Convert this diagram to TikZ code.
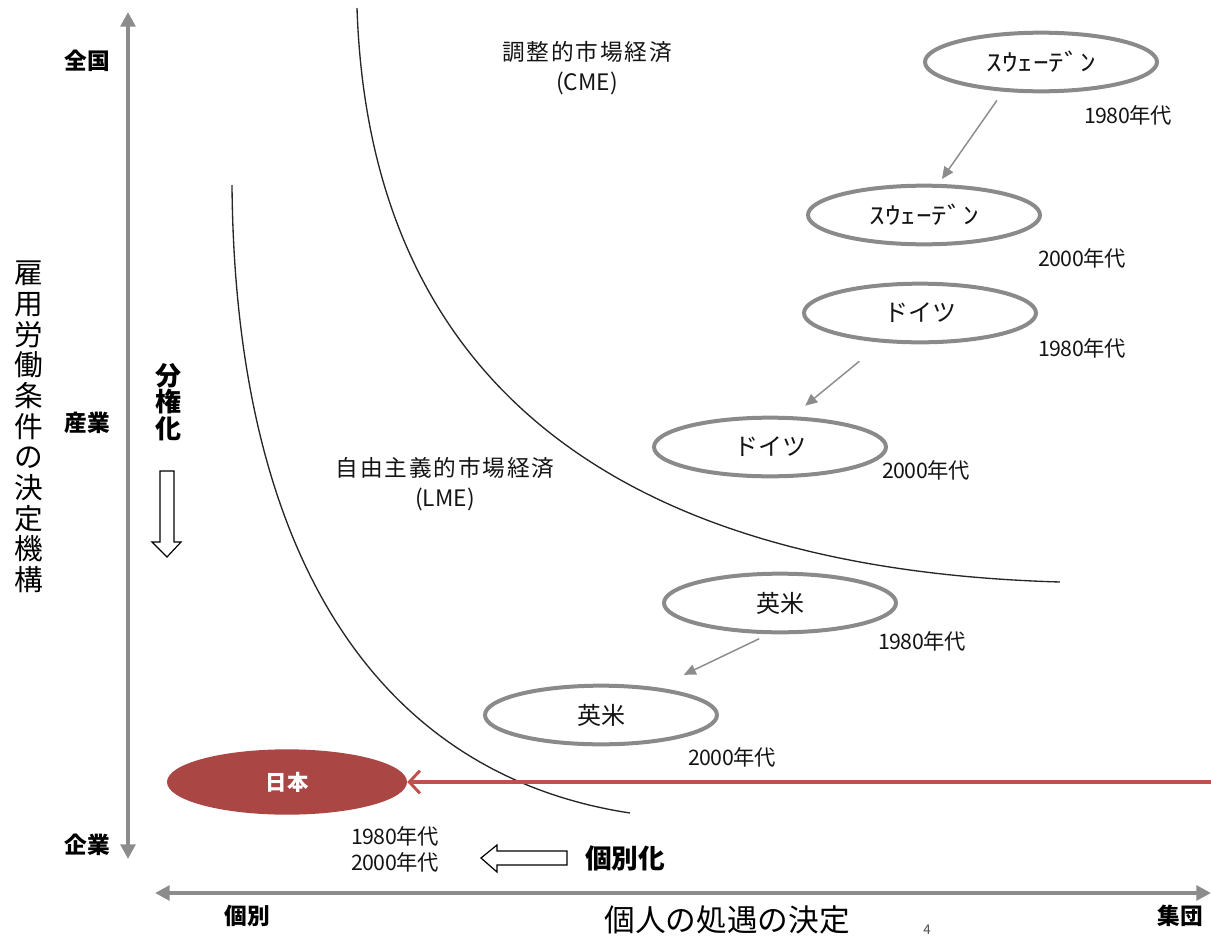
\documentclass[tikz,border=0pt]{standalone}
\usepackage{fontspec}
\usepackage{graphicx}
\setmainfont{Noto Sans CJK JP}
\usetikzlibrary{arrows.meta,shapes.geometric}
\definecolor{axisgray}{RGB}{140,140,140}
\definecolor{ellgray}{RGB}{138,138,138}
\definecolor{jpred}{RGB}{170,70,68}
\definecolor{arrred}{RGB}{192,80,77}
\definecolor{txt}{RGB}{20,20,20}
\newcommand{\hwk}[1]{\scalebox{1.3}[1]{#1}}
\newcommand{\spaced}[1]{{\addfontfeature{LetterSpace=8}#1}}
\begin{document}
\begin{tikzpicture}[x=0.75pt,y=-0.75pt,
  axis/.style={draw=axisgray,line width=3pt,{Triangle[length=11pt,width=11pt]}-{Triangle[length=11pt,width=11pt]}},
  ell/.style={ellipse,draw=ellgray,line width=3pt,fill=white,minimum width=174pt,minimum height=44pt,inner sep=0pt,font=\fontsize{18pt}{21pt}\selectfont,text=txt},
  jp/.style={ellipse,fill=jpred,minimum width=180pt,minimum height=49pt,inner sep=0pt,text=white,font=\fontsize{16pt}{19pt}\selectfont\bfseries},
  conn/.style={draw=axisgray,line width=1.1pt,-{Triangle[length=9pt,width=8pt]}},
  redarr/.style={draw=arrred,line width=3pt,-{Straight Barb[length=8pt,width=17pt,line width=2.2pt]}},
  hollow/.style={draw=black,line width=0.9pt,fill=white,line join=miter},
  curve/.style={draw=black!85,line width=1pt},
  period/.style={font=\fontsize{16pt}{19.5pt}\selectfont\addfontfeature{LetterSpace=-2},text=txt,align=center},
  region/.style={font=\fontsize{17pt}{22pt}\selectfont,text=txt,align=center},
  level/.style={font=\fontsize{17pt}{20pt}\selectfont\bfseries,text=black},
  bigbold/.style={font=\fontsize{20pt}{20pt}\selectfont\bfseries,text=black,align=center},
]
\useasboundingbox (0,0) rectangle (1211,939);

% boundary curves
\draw[curve] (357,8) .. controls (370,400) and (640,570) .. (1060,582);
\draw[curve] (232,185) .. controls (235,560) and (380,775) .. (630,813);

% axes
\coordinate (ytop) at (128,12);
\coordinate (ybot) at (128,859);
\coordinate (xleft) at (155,893);
\coordinate (xright) at (1211,893);
\draw[axis] (ybot) -- (ytop);
\draw[axis] (xleft) -- (xright);

% axis labels
\node[level] (zenkoku) at (87,61) {全国};
\node[level] (sangyo) at (87,423) {産業};
\node[level] (kigyo) at (87,845) {企業};
\node[font=\fontsize{21.5pt}{23pt}\selectfont,align=center,text=black] (ylabel) at (29,427)
  {雇\\用\\労\\働\\条\\件\\の\\決\\定\\機\\構};
\node[level] (kobetsu) at (247,916) {個別};
\node[level] (shudan) at (1180,916) {集団};
\node[font=\fontsize{23pt}{26pt}\selectfont,text=black] (xlabel) at (727,920) {個人の処遇の決定};
\node[font=\fontsize{10pt}{12pt}\selectfont,text=black!70,inner sep=1pt] (pagenum) at (927,930) {4};

% region labels
\node[region] (cme) at (587,68) {\spaced{調整的市場経済}\\(CME)};
\node[region] (lme) at (445,484) {\spaced{自由主義的市場経済}\\(LME)};

% country ellipses
\node[ell] (swe80) at (1041,62) {\hwk{ｽｳｪｰﾃﾞﾝ}};
\node[ell] (swe00) at (924,215) {\hwk{ｽｳｪｰﾃﾞﾝ}};
\node[ell] (ger80) at (920,313) {ドイツ};
\node[ell] (ger00) at (770,447) {ドイツ};
\node[ell] (uk80) at (780,603) {英米};
\node[ell] (uk00) at (601,715) {英米};
\node[jp] (japan) at (287,782) {日本};

% period labels
\node[period] (p1) at (1128,115) {1980年代};
\node[period] (p2) at (1082,258) {2000年代};
\node[period] (p3) at (1082,348) {1980年代};
\node[period] (p4) at (926,470) {2000年代};
\node[period] (p5) at (922,641) {1980年代};
\node[period] (p6) at (732,757) {2000年代};
\node[period] (p7) at (395,849) {1980年代\\2000年代};

% transitions
\draw[conn,shorten <=8pt,shorten >=4.5pt] (swe80.218) -- (swe00.65);
\draw[conn,shorten <=22pt,shorten >=12.5pt] (ger80.218) -- (ger00.54);
\draw[conn,shorten <=8pt,shorten >=22pt] (uk80.250) -- (uk00.26);

% Japan arrow
\coordinate (redstart) at (1211,782);
\draw[redarr] (redstart) -- (japan.east);

% decentralisation
\node[bigbold,font=\fontsize{19.5pt}{20pt}\selectfont\bfseries] (bunken) at (168,402) {分\\権\\化};
\draw[hollow] (160,471) -- (174,471) -- (174,542) -- (181,542) -- (167,557) -- (152,542) -- (160,542) -- cycle;

% individualisation
\node[bigbold] (kobetsuka) at (625,858) {個別化};
\draw[hollow] (567,851) -- (497,851) -- (497,845) -- (481,858) -- (497,872) -- (497,865) -- (567,865) -- cycle;
\end{tikzpicture}
\end{document}
